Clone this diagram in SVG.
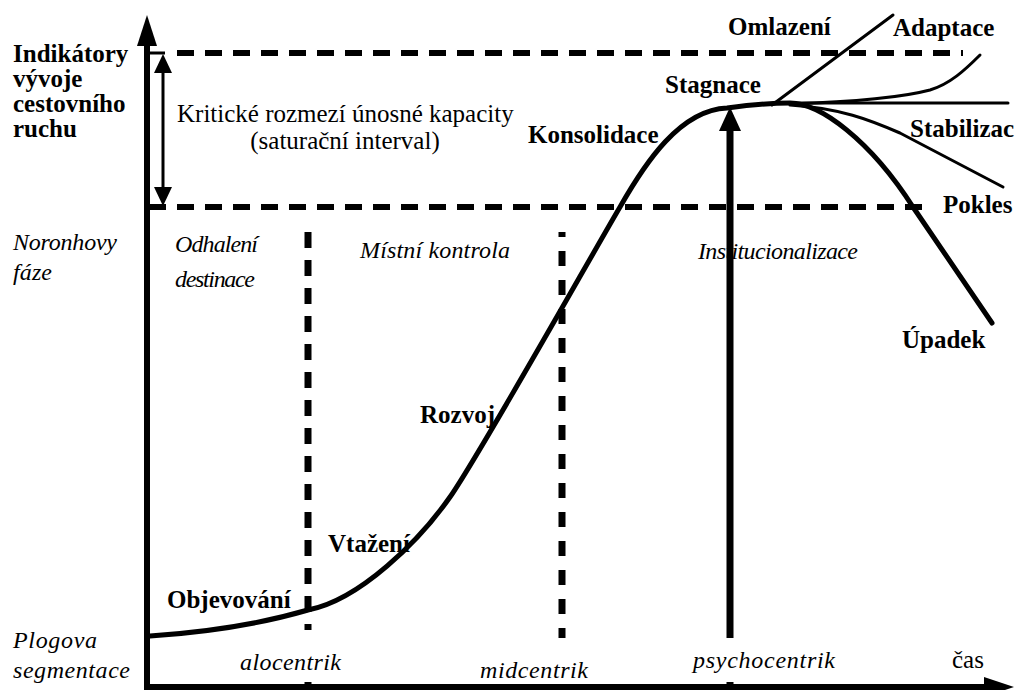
<svg xmlns="http://www.w3.org/2000/svg" width="1015" height="690" viewBox="0 0 1015 690">
  <style>
    .b { font-weight: bold; font-size: 25px; }
    .r { font-size: 25px; }
    .i { font-style: italic; font-size: 24px; }
    .axis { stroke: #000; stroke-width: 6; fill: none; }
    .hdash { stroke: #000; stroke-width: 6; stroke-dasharray: 17 11; fill: none; }
    .curve { stroke: #000; stroke-width: 5; fill: none; stroke-linecap: round; }
    .branch { stroke: #000; stroke-width: 3; fill: none; stroke-linecap: round; }
    .head { fill: #000; }
  </style>

  <!-- axes -->
  <g id="axes">
    <line class="axis" x1="147" y1="690" x2="147" y2="40"/>
    <polygon class="head" points="147,15 137,46 157,46"/>
    <line class="axis" x1="144" y1="687" x2="990" y2="687"/>
    <polygon class="head" points="1014,687 984,677 984,697"/>
  </g>

  <!-- saturation interval bounds -->
  <g id="saturation-bounds">
    <line x1="150" y1="53" x2="165" y2="53" stroke="#000" stroke-width="3"/>
    <line class="hdash" x1="177" y1="53" x2="963" y2="53"/>
    <line x1="150" y1="207" x2="166" y2="207" stroke="#000" stroke-width="6"/>
    <line class="hdash" x1="177" y1="207" x2="925" y2="207"/>
    <line x1="163" y1="68" x2="163" y2="192" stroke="#000" stroke-width="3"/>
    <polygon class="head" points="163,54 154,73 172,73"/>
    <polygon class="head" points="163,206 154,187 172,187"/>
  </g>

  <!-- segment dividers -->
  <g id="dividers">
    <line x1="308" y1="232" x2="308" y2="630" stroke="#000" stroke-width="7" stroke-dasharray="16 12"/>
    <line x1="308" y1="682" x2="308" y2="687" stroke="#000" stroke-width="7"/>
    <line x1="562" y1="232" x2="562" y2="638" stroke="#000" stroke-width="7" stroke-dasharray="15 14" stroke-dashoffset="10"/>
    <line x1="730" y1="125" x2="730" y2="638" stroke="#000" stroke-width="7"/>
    <line x1="730" y1="682" x2="730" y2="687" stroke="#000" stroke-width="7"/>
    <polygon class="head" points="730,107 719,131 741,131"/>
  </g>

  <!-- life cycle curve and its branches -->
  <g id="connectors">
    <path class="curve" d="M150,636 C210,632 260,624 308,610 C360,600 420,540 450,497 C480,454 590,258 620,207 C645,163 680,110 727,108 C750,105 770,103 790,103 C820,103 870,140 913,207 L992,323"/>
    <line class="branch" x1="772" y1="105" x2="893" y2="15"/>
    <path class="branch" d="M790,104 C850,102 900,98 930,90 C950,84 965,70 980,55"/>
    <line class="branch" x1="790" y1="103" x2="1008" y2="103"/>
    <path class="branch" d="M790,105 C840,108 870,120 900,133 L1003,187"/>
  </g>

  <!-- labels -->
  <g font-family="'Liberation Serif', 'Times New Roman', serif" fill="#000">
    <g id="label-indikatory">
      <text class="b" x="13" y="62">Indikátory</text>
      <text class="b" x="13" y="87">vývoje</text>
      <text class="b" x="13" y="112">cestovního</text>
      <text class="b" x="13" y="137">ruchu</text>
    </g>
    <g id="label-kriticke">
      <text class="r" x="177" y="122">Kritické rozmezí únosné kapacity</text>
      <text class="r" x="345" y="149" text-anchor="middle">(saturační interval)</text>
    </g>
    <g id="label-noronhovy">
      <text class="i" x="13" y="250" textLength="104">Noronhovy</text>
      <text class="i" x="13" y="280" textLength="39">fáze</text>
    </g>
    <g id="label-odhaleni">
      <text class="i" x="175" y="252" textLength="83">Odhalení</text>
      <text class="i" x="175" y="287" textLength="80">destinace</text>
    </g>
    <g id="label-mistni-kontrola"><text class="i" x="360" y="258" textLength="150">Místní kontrola</text></g>
    <g id="label-institucionalizace"><text class="i" x="698" y="259" textLength="160">Institucionalizace</text></g>
    <g id="label-plogova">
      <text class="i" x="13" y="648" textLength="84">Plogova</text>
      <text class="i" x="13" y="678" textLength="117">segmentace</text>
    </g>
    <g id="label-alocentrik"><text class="i" x="240" y="670" textLength="101">alocentrik</text></g>
    <g id="label-midcentrik"><text class="i" x="480" y="678" textLength="108">midcentrik</text></g>
    <g id="label-psychocentrik"><text class="i" x="693" y="668" textLength="142">psychocentrik</text></g>
    <g id="label-cas"><text class="r" x="952" y="668" font-size="24">čas</text></g>

    <g id="stage-objevovani"><text class="b" x="167" y="608">Objevování</text></g>
    <g id="stage-vtazeni"><text class="b" x="328" y="552">Vtažení</text></g>
    <g id="stage-rozvoj"><text class="b" x="420" y="423">Rozvoj</text></g>
    <g id="stage-konsolidace"><text class="b" x="528" y="143">Konsolidace</text></g>
    <g id="stage-stagnace"><text class="b" x="665" y="93">Stagnace</text></g>
    <g id="stage-omlazeni"><text class="b" x="728" y="35">Omlazení</text></g>
    <g id="stage-adaptace"><text class="b" x="893" y="36">Adaptace</text></g>
    <g id="stage-stabilizac"><text class="b" x="910" y="137">Stabilizac</text></g>
    <g id="stage-pokles"><text class="b" x="943" y="213">Pokles</text></g>
    <g id="stage-upadek"><text class="b" x="902" y="348">Úpadek</text></g>
  </g>
</svg>
